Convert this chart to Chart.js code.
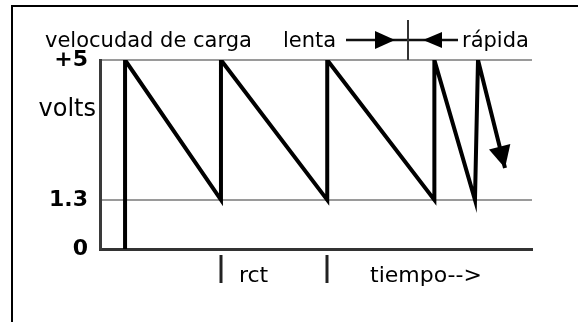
<!DOCTYPE html>
<html>
<head>
<meta charset="utf-8">
<script src="https://cdn.jsdelivr.net/npm/chart.js@4.4.1/dist/chart.umd.min.js"></script>
<style>
  html, body { margin: 0; padding: 0; background: #fff; }
</style>
</head>
<body>
<canvas id="chart-carga" width="578" height="322"></canvas>
<script>
/* ============================
   DATA
   ============================ */
// time runs 0..100 (arbitrary units) across the plot, volts 0..5
const timePoints = [5.8, 5.8, 28.0, 28.0, 52.6, 52.6, 77.4, 77.4, 86.8, 87.5, 93.75];
const voltPoints = [0, 5, 1.3, 5, 1.3, 5, 1.3, 5, 1.3, 5, 2.14];
const yTicks = [0, 1.3, 5];
const yTickLabels = ['0', '1.3', '+5'];
const rctMarks = [28.0, 52.6];   // one rc time constant
const unitLabel = 'volts';
const unitLabelValue = 3.68;
const titleSlow = 'velocudad de carga';
const slowWord = 'lenta';
const fastWord = 'rápida';
const rctLabel = 'rct';
const timeLabel = 'tiempo-->';

const FONT = '"DejaVu Sans", Verdana, sans-serif';

/* ============================
   DRAWING HELPERS
   ============================ */
function triangle(ctx, tip, baseA, baseB) {
  ctx.beginPath();
  ctx.moveTo(tip[0], tip[1]);
  ctx.lineTo(baseA[0], baseA[1]);
  ctx.lineTo(baseB[0], baseB[1]);
  ctx.closePath();
  ctx.fill();
}

const sketchPlugin = {
  id: 'sketch',
  beforeDraw(chart) {
    const { ctx } = chart;
    ctx.save();
    ctx.fillStyle = '#fff';
    ctx.fillRect(0, 0, chart.width, chart.height);
    // outer frame (left + top only)
    ctx.strokeStyle = '#000';
    ctx.lineWidth = 2;
    ctx.beginPath();
    ctx.moveTo(12, chart.height);
    ctx.lineTo(12, 6);
    ctx.lineTo(chart.width, 6);
    ctx.stroke();
    ctx.restore();
  },
  afterDraw(chart) {
    const { ctx, scales: { x, y } } = chart;
    ctx.save();
    ctx.fillStyle = '#000';
    ctx.textBaseline = 'alphabetic';

    // header: velocudad de carga  lenta --> | <-- rápida
    ctx.font = `21px ${FONT}`;
    ctx.textAlign = 'left';
    ctx.fillText(titleSlow, 45, 47);
    ctx.fillText(slowWord, 283, 47);
    ctx.fillText(fastWord, 462, 47);

    ctx.strokeStyle = '#111';
    ctx.lineWidth = 2.5;
    ctx.beginPath();
    ctx.moveTo(346, 40);
    ctx.lineTo(458, 40);
    ctx.stroke();
    ctx.strokeStyle = '#333';
    ctx.lineWidth = 2;
    ctx.beginPath();
    ctx.moveTo(408, 20);
    ctx.lineTo(408, y.top);
    ctx.stroke();
    triangle(ctx, [395, 40], [375, 31], [375, 49]);
    triangle(ctx, [423, 40], [442, 32], [442, 48]);

    // unit label next to the y axis
    ctx.font = `24px ${FONT}`;
    ctx.textAlign = 'right';
    ctx.textBaseline = 'middle';
    ctx.fillText(unitLabel, 96, y.getPixelForValue(unitLabelValue));

    // arrowhead on the last falling segment
    const n = timePoints.length;
    const tx = x.getPixelForValue(timePoints[n - 1]);
    const ty = y.getPixelForValue(voltPoints[n - 1]);
    const px = x.getPixelForValue(timePoints[n - 2]);
    const py = y.getPixelForValue(voltPoints[n - 2]);
    const len = Math.hypot(tx - px, ty - py);
    const ux = (tx - px) / len, uy = (ty - py) / len;
    const bx = tx - ux * 22, by = ty - uy * 22;
    triangle(ctx, [tx, ty], [bx - uy * 11, by + ux * 11], [bx + uy * 11, by - ux * 11]);

    // rct markers under the time axis
    ctx.strokeStyle = '#222';
    ctx.lineWidth = 3;
    rctMarks.forEach(v => {
      const mx = Math.round(x.getPixelForValue(v));
      ctx.beginPath();
      ctx.moveTo(mx, y.bottom + 6);
      ctx.lineTo(mx, y.bottom + 34);
      ctx.stroke();
    });
    ctx.font = `22px ${FONT}`;
    ctx.textAlign = 'left';
    ctx.textBaseline = 'alphabetic';
    ctx.fillText(rctLabel, x.getPixelForValue(rctMarks[0]) + 18, 282);
    ctx.fillText(timeLabel, 370, 282);
    ctx.restore();
  }
};

/* ============================
   CHART
   ============================ */
new Chart(document.getElementById('chart-carga'), {
  type: 'line',
  data: {
    datasets: [{
      data: timePoints.map((t, i) => ({ x: t, y: voltPoints[i] })),
      borderColor: '#000',
      borderWidth: 4,
      pointRadius: 0,
      tension: 0,
      fill: false
    }]
  },
  options: {
    responsive: false,
    animation: false,
    layout: { padding: { top: 60, right: 46, left: 0, bottom: 0 } },
    plugins: { legend: { display: false }, tooltip: { enabled: false } },
    scales: {
      x: {
        type: 'linear',
        min: 0,
        max: 100,
        ticks: { display: false },
        grid: { display: false },
        border: { display: true, color: '#333', width: 3 },
        afterFit: scale => { scale.height = 73; }
      },
      y: {
        type: 'linear',
        min: 0,
        max: 5,
        afterBuildTicks: scale => { scale.ticks = yTicks.map(v => ({ value: v })); },
        ticks: {
          padding: 12,
          color: '#000',
          font: { size: 22, weight: 'bold', family: FONT },
          callback: v => yTickLabels[yTicks.indexOf(v)]
        },
        grid: {
          drawTicks: false,
          lineWidth: 2,
          color: ctx => (ctx.tick && ctx.tick.value === 0) ? 'rgba(0,0,0,0)' : '#9a9a9a'
        },
        border: { display: true, color: '#3a3a3a', width: 3 },
        afterFit: scale => { scale.width = 100; }
      }
    }
  },
  plugins: [sketchPlugin]
});
</script>
</body>
</html>
